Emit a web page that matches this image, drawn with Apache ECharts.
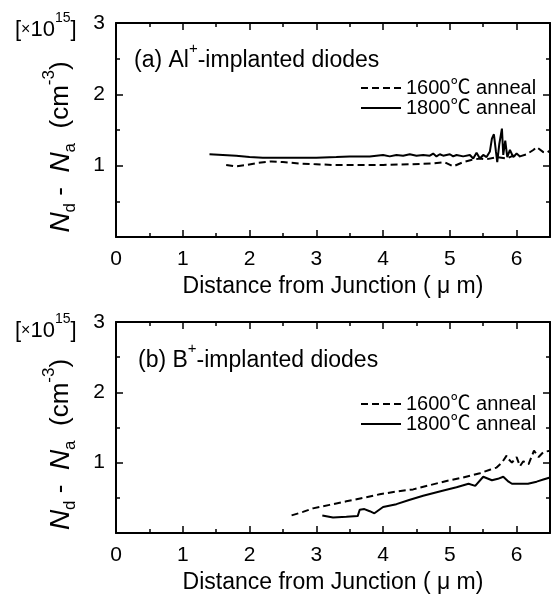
<!DOCTYPE html>
<html>
<head>
<meta charset="utf-8">
<script src="https://cdn.jsdelivr.net/npm/echarts@6/dist/echarts.min.js"></script>
<style>html,body{margin:0;padding:0;background:#fff;}#c{width:553px;height:595px;}</style>
</head>
<body>
<div id="c"></div>
<script>
// ---- data (distance in µm, Nd-Na in 1e15 cm^-3) ----
const xTicks = [0, 1, 2, 3, 4, 5, 6];
const yTicks = [1, 2, 3];
const seriesNames = ['1600℃ anneal', '1800℃ anneal'];

const al1800X = [1.40, 1.6, 1.8, 2.0, 2.2, 2.5, 3.0, 3.3, 3.5, 3.8, 4.0, 4.1, 4.2, 4.3, 4.4, 4.5, 4.6, 4.7, 4.75, 4.8, 4.85, 4.9, 5.0, 5.05, 5.1, 5.2, 5.3, 5.35, 5.4, 5.45, 5.5, 5.55, 5.6, 5.63, 5.66, 5.69, 5.71, 5.74, 5.78, 5.8, 5.83, 5.86, 5.9, 5.95, 6.0, 6.05];
const al1800Y = [1.16, 1.15, 1.14, 1.12, 1.11, 1.11, 1.11, 1.12, 1.13, 1.13, 1.15, 1.13, 1.15, 1.14, 1.16, 1.14, 1.15, 1.14, 1.17, 1.13, 1.16, 1.14, 1.16, 1.13, 1.15, 1.13, 1.15, 1.10, 1.18, 1.10, 1.15, 1.12, 1.20, 1.38, 1.44, 1.20, 1.05, 1.30, 1.52, 1.15, 1.35, 1.12, 1.22, 1.12, 1.17, 1.13];

const al1600X = [1.65, 1.8, 1.95, 2.13, 2.33, 2.5, 2.75, 3.0, 3.25, 3.6, 4.0, 4.4, 4.72, 4.92, 5.05, 5.2, 5.32, 5.45, 5.55, 5.7, 5.85, 5.95, 6.05, 6.15, 6.25, 6.3, 6.4, 6.45, 6.5];
const al1600Y = [1.01, 0.99, 1.01, 1.04, 1.06, 1.05, 1.03, 1.02, 1.01, 1.01, 1.01, 1.02, 1.03, 1.05, 0.99, 1.05, 1.08, 1.10, 1.09, 1.12, 1.10, 1.14, 1.13, 1.16, 1.22, 1.26, 1.19, 1.18, 1.21];

const b1600X = [2.63, 2.8, 2.95, 3.2, 3.45, 3.7, 3.95, 4.2, 4.45, 4.7, 4.95, 5.2, 5.45, 5.6, 5.7, 5.78, 5.85, 5.88, 5.93, 6.0, 6.05, 6.1, 6.18, 6.26, 6.33, 6.4, 6.5];
const b1600Y = [0.25, 0.30, 0.35, 0.40, 0.45, 0.50, 0.55, 0.59, 0.62, 0.68, 0.74, 0.79, 0.85, 0.90, 0.93, 1.00, 1.10, 1.05, 1.00, 1.08, 0.95, 1.02, 0.98, 1.17, 1.08, 1.15, 1.17];

const b1800X = [3.09, 3.25, 3.45, 3.62, 3.65, 3.72, 3.8, 3.87, 4.0, 4.2, 4.39, 4.6, 4.89, 5.1, 5.28, 5.38, 5.5, 5.63, 5.72, 5.8, 5.88, 5.93, 6.05, 6.17, 6.3, 6.4, 6.5];
const b1800Y = [0.25, 0.22, 0.23, 0.24, 0.33, 0.34, 0.31, 0.28, 0.37, 0.41, 0.47, 0.53, 0.60, 0.65, 0.70, 0.67, 0.80, 0.75, 0.77, 0.80, 0.73, 0.70, 0.70, 0.70, 0.73, 0.76, 0.79];

const zip = (xs, ys) => xs.map((x, i) => [x, ys[i]]);

const FONT = "'Liberation Sans', 'Noto Sans CJK JP', Arial, sans-serif";
const INK = '#000';

const grids = [
  { left: 116, top: 23, width: 436, height: 214 },
  { left: 116, top: 322, width: 436, height: 213 }
];

function xAxisPair(gi) {
  const base = {
    gridIndex: gi, type: 'value', min: 0, max: 6.5, interval: 1,
    axisLine: { show: true, onZero: false, lineStyle: { color: INK, width: 2 } },
    axisTick: { show: true, inside: true, length: 7, lineStyle: { color: INK, width: 1.5 } },
    minorTick: { show: true, splitNumber: 2, length: 4, lineStyle: { color: INK, width: 1.5 } },
    splitLine: { show: false }, minorSplitLine: { show: false }
  };
  return [
    Object.assign({}, base, {
      position: 'bottom',
      axisLabel: { show: true, margin: 12, color: INK, fontSize: 21, fontFamily: FONT,
        formatter: v => (xTicks.includes(v) ? String(v) : '') },
      name: 'Distance from Junction ( μ m)', nameLocation: 'middle', nameGap: 38,
      nameTextStyle: { color: INK, fontSize: 23, fontFamily: FONT }
    }),
    Object.assign({}, base, { position: 'top', axisLabel: { show: false } })
  ];
}

function yAxisPair(gi) {
  const base = {
    gridIndex: gi, type: 'value', min: 0, max: 3, interval: 1,
    axisLine: { show: true, onZero: false, lineStyle: { color: INK, width: 2 } },
    axisTick: { show: true, inside: true, length: 7, lineStyle: { color: INK, width: 1.5 } },
    minorTick: { show: true, splitNumber: 2, length: 4, lineStyle: { color: INK, width: 1.5 } },
    splitLine: { show: false }, minorSplitLine: { show: false }
  };
  return [
    Object.assign({}, base, {
      position: 'left',
      axisLabel: { show: true, margin: 11, color: INK, fontSize: 21, fontFamily: FONT,
        formatter: v => (yTicks.includes(v) ? String(v) : '') },
      name: '{i|N}{sub|d}{n| -  }{i|N}{sub|a}{n|  (cm}{sup|-3}{n|)}',
      nameLocation: 'middle', nameRotate: 90, nameGap: 41,
      nameTextStyle: {
        color: INK, fontFamily: FONT, padding: [0, 34, 0, 0],
        rich: {
          i: { fontSize: 28, fontStyle: 'italic', fontFamily: FONT, color: INK, verticalAlign: 'middle' },
          n: { fontSize: 26, fontFamily: FONT, color: INK, verticalAlign: 'middle' },
          sub: { fontSize: 17, fontFamily: FONT, color: INK, verticalAlign: 'bottom', padding: [0, 0, -4, 0] },
          sup: { fontSize: 17, fontFamily: FONT, color: INK, verticalAlign: 'top', padding: [-6, 0, 0, 0] }
        }
      }
    }),
    Object.assign({}, base, { position: 'right', axisLabel: { show: false } })
  ];
}

const xAxes = [...xAxisPair(0), ...xAxisPair(1)];
const yAxes = [...yAxisPair(0), ...yAxisPair(1)];

function lineSeries(name, xi, yi, data, dashed) {
  return {
    name, type: 'line', xAxisIndex: xi, yAxisIndex: yi, data,
    symbol: 'none', showSymbol: false, smooth: false, animation: false,
    lineStyle: { color: INK, width: 2, type: dashed ? [7, 4] : 'solid' },
    itemStyle: { color: INK }
  };
}

const series = [
  lineSeries(seriesNames[0], 0, 0, zip(al1600X, al1600Y), true),
  lineSeries(seriesNames[1], 0, 0, zip(al1800X, al1800Y), false),
  lineSeries(seriesNames[0], 2, 2, zip(b1600X, b1600Y), true),
  lineSeries(seriesNames[1], 2, 2, zip(b1800X, b1800Y), false)
];

const richTitle = {
  n: { fontSize: 23, fontFamily: FONT, color: INK, fontWeight: 'normal' },
  sup: { fontSize: 15, fontFamily: FONT, color: INK, fontWeight: 'normal', verticalAlign: 'top', padding: [-8, 0, 0, 0] }
};
const richScale = {
  n: { fontSize: 22, fontFamily: FONT, color: INK, fontWeight: 'normal' },
  sup: { fontSize: 14, fontFamily: FONT, color: INK, fontWeight: 'normal', verticalAlign: 'top', padding: [-8, 0, 0, 0] },
  s: { fontSize: 16, fontFamily: FONT, color: INK, fontWeight: 'normal' }
};

const titles = [
  { text: '{n|(a) Al}{sup|+}{n|-implanted diodes}', left: 129, top: 44, textStyle: { fontWeight: 'normal', rich: richTitle } },
  { text: '{n|(b) B}{sup|+}{n|-implanted diodes}', left: 133, top: 344, textStyle: { fontWeight: 'normal', rich: richTitle } },
  { text: '{n|[}{s|×}{n|10}{sup|15}{n|]}', left: 10, top: 14, textStyle: { fontWeight: 'normal', rich: richScale } },
  { text: '{n|[}{s|×}{n|10}{sup|15}{n|]}', left: 10, top: 315, textStyle: { fontWeight: 'normal', rich: richScale } }
];

const legendBase = {
  orient: 'vertical', itemWidth: 40, itemHeight: 14, itemGap: 0,
  data: seriesNames, selectedMode: false,
  itemStyle: { opacity: 0 },
  textStyle: { color: INK, fontSize: 20, fontFamily: FONT, lineHeight: 20 }
};

const option = {
  backgroundColor: '#fff',
  animation: false,
  title: titles,
  grid: grids,
  xAxis: xAxes,
  yAxis: yAxes,
  legend: [
    Object.assign({}, legendBase, { left: 355, top: 73 }),
    Object.assign({}, legendBase, { left: 355, top: 389 })
  ],
  series
};

const chart = echarts.init(document.getElementById('c'), null, { renderer: 'canvas' });
chart.setOption(option);
</script>
</body>
</html>
